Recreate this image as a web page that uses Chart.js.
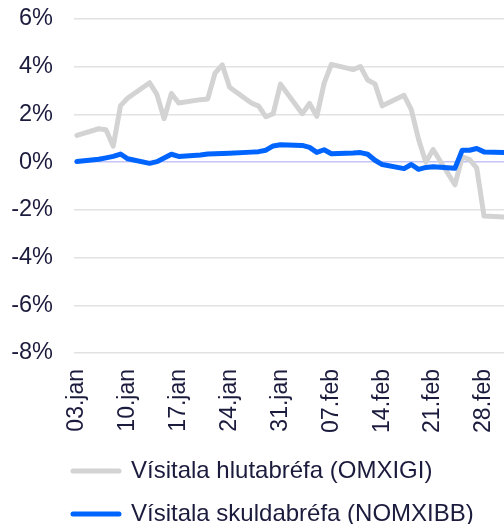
<!DOCTYPE html>
<html>
<head>
<meta charset="utf-8">
<script src="https://cdn.jsdelivr.net/npm/chart.js@4.4.1/dist/chart.umd.min.js"></script>
<style>
  html, body { margin: 0; padding: 0; background: #fff; overflow: hidden; }
  #wrap { width: 504px; height: 524px; position: relative; }
</style>
</head>
<body>
<div id="wrap"><canvas id="chart"></canvas></div>
<script>
// trading days (2020), x is placed by calendar day like a date axis
const dates = [
  '2020-01-03', '2020-01-06', '2020-01-07', '2020-01-08', '2020-01-09', '2020-01-10',
  '2020-01-13', '2020-01-14', '2020-01-15', '2020-01-16', '2020-01-17',
  '2020-01-20', '2020-01-21', '2020-01-22', '2020-01-23', '2020-01-24',
  '2020-01-27', '2020-01-28', '2020-01-29', '2020-01-30', '2020-01-31',
  '2020-02-03', '2020-02-04', '2020-02-05', '2020-02-06', '2020-02-07',
  '2020-02-10', '2020-02-11', '2020-02-12', '2020-02-13', '2020-02-14',
  '2020-02-17', '2020-02-18', '2020-02-19', '2020-02-20', '2020-02-21',
  '2020-02-24', '2020-02-25', '2020-02-26', '2020-02-27', '2020-02-28',
  '2020-03-02', '2020-03-03'
];

// Vísitala hlutabréfa (OMXIGI), % change
const omxigi = [
  1.12, 1.40, 1.36, 0.67, 2.37, 2.69,
  3.33, 2.84, 1.82, 2.88, 2.48,
  2.62, 2.65, 3.73, 4.08, 3.14,
  2.48, 2.35, 1.90, 2.03, 3.27,
  2.03, 2.46, 1.92, 3.30, 4.10,
  3.88, 4.01, 3.44, 3.28, 2.36,
  2.80, 2.20, 0.95, 0.00, 0.53,
  -0.95, 0.22, 0.12, -0.25, -2.26,
  -2.30, -4.50
];

// Vísitala skuldabréfa (NOMXIBB), % change
const nomxibb = [
  0.03, 0.12, 0.18, 0.24, 0.34, 0.14,
  -0.05, 0.02, 0.17, 0.33, 0.24,
  0.30, 0.34, 0.35, 0.36, 0.37,
  0.42, 0.44, 0.50, 0.68, 0.73,
  0.70, 0.62, 0.41, 0.52, 0.35,
  0.38, 0.40, 0.33, 0.08, -0.10,
  -0.27, -0.10, -0.30, -0.22, -0.19,
  -0.26, 0.50, 0.50, 0.57, 0.43,
  0.40, 0.40
];

const tickDates = ['2020-01-03', '2020-01-10', '2020-01-17', '2020-01-24', '2020-01-31',
                   '2020-02-07', '2020-02-14', '2020-02-21', '2020-02-28'];
const tickLabels = ['03.jan', '10.jan', '17.jan', '24.jan', '31.jan',
                    '07.feb', '14.feb', '21.feb', '28.feb'];
const seriesNames = ['Vísitala hlutabréfa (OMXIGI)', 'Vísitala skuldabréfa (NOMXIBB)'];

const dayOf = s => (Date.parse(s) - Date.parse(dates[0])) / 864e5;
const tickDays = tickDates.map(dayOf);
const toPoints = vals => dates.map((d, i) => ({ x: dayOf(d), y: vals[i] }));

const textColor = '#1b1b3d';
const family = "'Liberation Sans', Arial, sans-serif";

// line the legend up with the left edge of the plot instead of the canvas
const legendLeft = {
  id: 'legendLeft',
  afterLayout(chart) {
    const lg = chart.legend;
    lg.left = chart.chartArea.left - 1 - lg.options.labels.padding;
  }
};

new Chart(document.getElementById('chart'), {
  type: 'line',
  data: {
    datasets: [
      {
        label: seriesNames[0],
        data: toPoints(omxigi),
        borderColor: '#d3d3d3',
        backgroundColor: '#d3d3d3',
        borderWidth: 5,
        order: 1
      },
      {
        label: seriesNames[1],
        data: toPoints(nomxibb),
        borderColor: '#0064ff',
        backgroundColor: '#0064ff',
        borderWidth: 5,
        order: 0
      }
    ]
  },
  options: {
    responsive: true,
    maintainAspectRatio: false,
    animation: false,
    layout: { padding: { top: 19, right: 0, bottom: -12, left: 0 } },
    elements: {
      point: { radius: 0 },
      line: { tension: 0, borderCapStyle: 'round', borderJoinStyle: 'round' }
    },
    scales: {
      x: {
        type: 'linear',
        min: -0.4,
        max: 58.75,
        grid: { display: false, drawTicks: false },
        border: { display: false },
        afterBuildTicks: s => { s.ticks = tickDays.map(v => ({ value: v })); },
        afterFit: s => { s.height = 87; s.paddingLeft = 0; s.paddingRight = 0; },
        ticks: {
          autoSkip: false,
          minRotation: 90,
          maxRotation: 90,
          padding: 16,
          color: textColor,
          font: { family, size: 23 },
          callback: (v, i) => tickLabels[i]
        }
      },
      y: {
        min: -8,
        max: 6,
        border: { display: false },
        grid: {
          drawTicks: false,
          lineWidth: 1.5,
          color: ctx => ctx.tick.value === 0 ? '#c4c4f6' : '#e2e2e2'
        },
        afterFit: s => { s.width = 74; s.paddingTop = 0; s.paddingBottom = 0; },
        ticks: {
          stepSize: 2,
          padding: 21,
          color: textColor,
          font: { family, size: 23.5 },
          callback: v => v + '%'
        }
      }
    },
    plugins: {
      tooltip: { enabled: false },
      legend: {
        position: 'bottom',
        align: 'start',
        labels: {
          boxWidth: 46,
          boxHeight: 0,
          padding: 19,
          color: textColor,
          font: { family, size: 24 },
          sort: (a, b) => a.datasetIndex - b.datasetIndex
        }
      }
    }
  },
  plugins: [legendLeft]
});
</script>
</body>
</html>
